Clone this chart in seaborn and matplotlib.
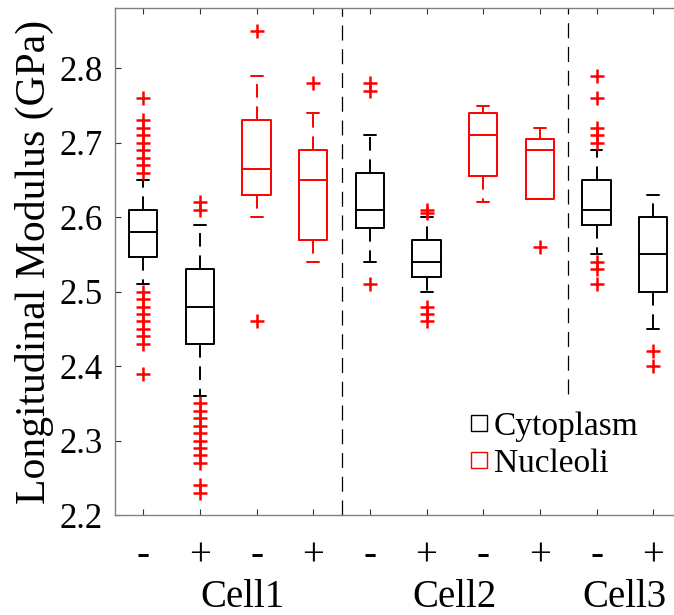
import matplotlib
matplotlib.use("Agg")
from matplotlib import pyplot as plt
from matplotlib.lines import Line2D
import matplotlib.transforms as mtransforms
import seaborn as sns
import pandas as pd

# Box statistics (GPa)
signs = ["-", "+", "-", "+", "-", "+", "-", "+", "-", "+"]
compartment = ["Cytoplasm", "Cytoplasm", "Nucleoli", "Nucleoli",
               "Cytoplasm", "Cytoplasm", "Nucleoli", "Nucleoli",
               "Cytoplasm", "Cytoplasm"]
cells = ["Cell1", "Cell2", "Cell3"]
cell_label_pos = [2.75, 6.5, 9.5]
separators = [4.5, 8.5]

whislo = [2.51, 2.36, 2.60, 2.54, 2.54, 2.50, 2.62, 2.625, 2.55, 2.45]
q1 = [2.547, 2.43, 2.63, 2.57, 2.585, 2.52, 2.655, 2.625, 2.59, 2.50]
med = [2.58, 2.48, 2.665, 2.65, 2.61, 2.54, 2.71, 2.69, 2.61, 2.55]
q3 = [2.61, 2.53, 2.73, 2.69, 2.66, 2.57, 2.74, 2.705, 2.65, 2.60]
whishi = [2.65, 2.59, 2.79, 2.74, 2.71, 2.60, 2.75, 2.72, 2.69, 2.63]
fliers = [
    [2.76, 2.73, 2.72, 2.71, 2.70, 2.69, 2.68, 2.67, 2.66,
     2.50, 2.49, 2.48, 2.47, 2.46, 2.45, 2.44, 2.43, 2.39],
    [2.62, 2.61, 2.35, 2.34, 2.33, 2.32, 2.31, 2.30, 2.29, 2.28, 2.27,
     2.24, 2.23],
    [2.85, 2.46],
    [2.78],
    [2.78, 2.77, 2.51],
    [2.61, 2.605, 2.48, 2.47, 2.46],
    [],
    [2.56],
    [2.79, 2.76, 2.72, 2.71, 2.70, 2.54, 2.53, 2.51],
    [2.42, 2.40],
]

colors = {"Cytoplasm": "black", "Nucleoli": "red"}

sns.set_style("ticks")
plt.rcParams["font.family"] = "serif"
plt.rcParams["font.serif"] = ["Liberation Serif", "Times New Roman", "DejaVu Serif"]
plt.rcParams["text.color"] = "black"
plt.rcParams["axes.labelcolor"] = "black"
plt.rcParams["xtick.labelcolor"] = "black"
plt.rcParams["ytick.labelcolor"] = "black"

fig = plt.figure(figsize=(6.74, 6.15), dpi=100)
ax = fig.add_axes([0.1706, 0.1626, 0.8405, 0.8244])

positions = list(range(1, len(signs) + 1))
for i, pos in enumerate(positions):
    c = colors[compartment[i]]
    stat = dict(whislo=whislo[i], q1=q1[i], med=med[i], q3=q3[i],
                whishi=whishi[i], fliers=[])
    ax.bxp([stat], positions=[pos], widths=0.5, capwidths=0.21,
           showfliers=False, patch_artist=False,
           boxprops=dict(color=c, linewidth=1.4),
           medianprops=dict(color=c, linewidth=1.4),
           whiskerprops=dict(color=c, linewidth=1.4, linestyle=(0, (7, 4.5))),
           capprops=dict(color=c, linewidth=1.4))

# outliers
fl_df = pd.DataFrame([(positions[i], v) for i in range(len(fliers)) for v in fliers[i]],
                     columns=["pos", "value"])
sns.scatterplot(data=fl_df, x="pos", y="value", marker="+", color="red",
                s=110, linewidth=1.8, ax=ax, zorder=3)

ax.axvline(separators[0], color="black", lw=0.9, ls=(0, (12, 7)), zorder=1)
ax.axvline(separators[1], ymin=(2.362 - 2.2) / (2.881 - 2.2), color="black",
           lw=0.9, ls=(0, (12, 7)), zorder=1)

ax.set_xlim(0.5, 10.5)
ax.set_ylim(2.2, 2.881)
ax.set_xticks(positions)
ax.set_xticklabels(signs, fontsize=28)
ax.set_yticks([2.2, 2.3, 2.4, 2.5, 2.6, 2.7, 2.8])
ax.set_yticklabels(["2.2", "2.3", "2.4", "2.5", "2.6", "2.7", "2.8"], fontsize=25)
ax.set_xlabel("")
ax.set_ylabel("Longitudinal Modulus (GPa)", fontsize=30, labelpad=4)
ax.tick_params(direction="in", length=4, width=0.8, color="#333333",
               top=True, right=True)
ax.tick_params(axis="y", pad=8.6)
ax.tick_params(axis="x", pad=16)
for sp in ax.spines.values():
    sp.set_color("#808080")
    sp.set_linewidth(1.0)

trans = mtransforms.blended_transform_factory(ax.transData, ax.transAxes)
for name, xp in zip(cells, cell_label_pos):
    ax.text(xp, -0.181, name, transform=trans, ha="center", va="baseline",
            fontsize=28)

handles = [Line2D([], [], ls="none", marker="s", markersize=11,
                  markerfacecolor="none", markeredgecolor=colors[k],
                  markeredgewidth=1.0) for k in ["Cytoplasm", "Nucleoli"]]
ax.legend(handles, ["Cytoplasm", "Nucleoli"], loc="upper left",
          bbox_to_anchor=(0.628, 0.204), frameon=False, fontsize=24,
          handlelength=0.5, handletextpad=0.2, labelspacing=0.19,
          borderpad=0, borderaxespad=0)

fig.savefig("out.png", dpi=100)
